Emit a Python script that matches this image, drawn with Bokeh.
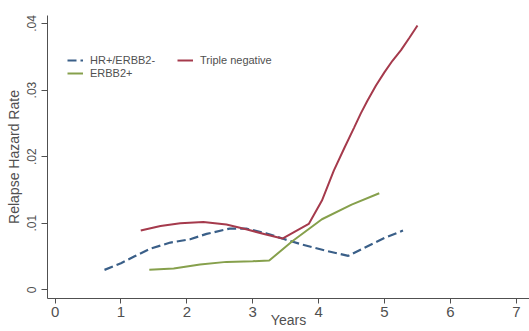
from bokeh.plotting import figure
from bokeh.models import (Range1d, FixedTicker, CustomJSTickFormatter, Legend,
                          LegendItem)
from bokeh.embed import file_html
from bokeh.resources import INLINE

# ---- data ----
hr_x = [0.75, 1.0, 1.2, 1.45, 1.75, 2.05, 2.3, 2.65, 2.9, 3.2, 3.45, 3.75, 4.1, 4.45, 4.75, 5.0, 5.28]
hr_y = [0.0030, 0.0040, 0.0050, 0.0062, 0.0071, 0.0076, 0.0084, 0.0092, 0.0092, 0.0085,
        0.0077, 0.0068, 0.0059, 0.0051, 0.0066, 0.0078, 0.0089]

tn_x = [1.3, 1.6, 1.9, 2.25, 2.6, 2.9, 3.2, 3.45, 3.85, 4.05, 4.23, 4.39, 4.54, 4.64,
        4.74, 4.87, 5.0, 5.12, 5.25, 5.38, 5.5]
tn_y = [0.0089, 0.0096, 0.0100, 0.0102, 0.0098, 0.0091, 0.0083, 0.0077, 0.0099, 0.0134,
        0.0179, 0.0213, 0.0244, 0.0265, 0.0284, 0.0307, 0.0327, 0.0344, 0.0360, 0.0379, 0.0397]

er_x = [1.43, 1.8, 2.2, 2.6, 3.0, 3.25, 3.6, 4.05, 4.5, 4.92]
er_y = [0.0030, 0.0032, 0.0038, 0.0042, 0.0043, 0.0044, 0.0073, 0.0106, 0.0128, 0.0145]

x_ticks = [0, 1, 2, 3, 4, 5, 6, 7]
y_ticks = [0, 0.01, 0.02, 0.03, 0.04]
series_names = ["HR+/ERBB2-", "Triple negative", "ERBB2+"]

FONT = "Liberation Sans"
TXT = "#505050"
AX = "#505050"

p = figure(frame_width=482, frame_height=283, min_border_left=47, min_border_right=0,
           min_border_top=15, min_border_bottom=33,
           x_range=Range1d(-0.115, 7.2), y_range=Range1d(-0.0013, 0.0412),
           output_backend="svg", toolbar_location=None)
p.outline_line_color = None
p.xgrid.visible = False
p.ygrid.visible = False
p.background_fill_color = "white"
p.border_fill_color = "white"

r_hr = p.line(hr_x, hr_y, line_color="#3a5f88", line_width=2.2, line_dash="9 4")
r_tn = p.line(tn_x, tn_y, line_color="#a53a4c", line_width=2)
r_er = p.line(er_x, er_y, line_color="#86a04c", line_width=2)

# x axis
xa = p.xaxis[0]
xa.ticker = FixedTicker(ticks=x_ticks)
xa.minor_tick_line_color = None
xa.major_tick_in = 0
xa.major_tick_out = 5
xa.axis_line_color = AX
xa.major_tick_line_color = AX
xa.major_label_text_font = FONT
xa.major_label_text_font_size = "15px"
xa.major_label_text_color = TXT
xa.major_label_standoff = 3
xa.axis_label = "Years"
xa.axis_label_text_font = FONT
xa.axis_label_text_font_size = "14px"
xa.axis_label_text_font_style = "normal"
xa.axis_label_text_color = TXT
xa.axis_label_standoff = -8

# y axis
ya = p.yaxis[0]
ya.ticker = FixedTicker(ticks=y_ticks)
ya.formatter = CustomJSTickFormatter(
    code='return tick == 0 ? "0" : tick.toFixed(2).replace(/^0/, "");')
ya.minor_tick_line_color = None
ya.major_tick_in = 0
ya.major_tick_out = 6
ya.axis_line_color = AX
ya.major_tick_line_color = AX
ya.major_label_orientation = "vertical"
ya.major_label_text_font = FONT
ya.major_label_text_font_size = "12px"
ya.major_label_text_color = TXT
ya.major_label_standoff = 5
ya.axis_label = "Relapse Hazard Rate"
ya.axis_label_text_font = FONT
ya.axis_label_text_font_size = "14px"
ya.axis_label_text_font_style = "normal"
ya.axis_label_text_color = TXT
ya.axis_label_standoff = 3

legend = Legend(items=[LegendItem(label=series_names[0], renderers=[r_hr]),
                       LegendItem(label=series_names[1], renderers=[r_tn]),
                       LegendItem(label=series_names[2], renderers=[r_er])],
                orientation="horizontal", ncols=2,
                location=(20, 219), padding=0, margin=0, spacing=1,
                glyph_width=16, glyph_height=10, label_height=10, label_width=86,
                label_standoff=7, label_text_font=FONT, label_text_font_size="11px",
                label_text_color=TXT, border_line_color=None, background_fill_alpha=0)
p.add_layout(legend, "center")

open("out.html", "w").write(file_html(p, INLINE))
